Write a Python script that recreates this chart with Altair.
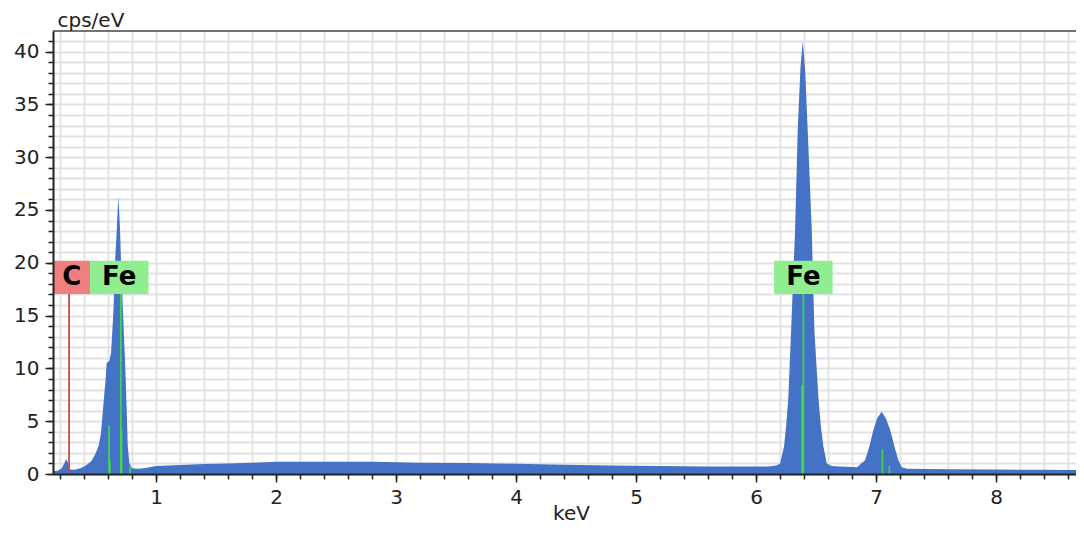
import altair as alt
import pandas as pd

# ---- spectrum (keV, cps/eV) ----
energy_kev = [0.141, 0.18, 0.21, 0.235, 0.25, 0.262, 0.275, 0.29, 0.33, 0.37,
              0.40, 0.42, 0.46, 0.49, 0.52, 0.54, 0.553, 0.568, 0.58, 0.588,
              0.61, 0.625, 0.635, 0.644, 0.658, 0.672, 0.686, 0.70, 0.708, 0.725,
              0.736, 0.742, 0.747, 0.756, 0.764, 0.778, 0.80, 0.85, 0.9, 1.0,
              1.2, 1.4, 1.6, 1.8, 2.0, 2.4, 2.8, 3.2, 3.6, 4.0,
              4.4, 4.8, 5.2, 5.6, 6.0, 6.10, 6.17, 6.20, 6.233, 6.25,
              6.269, 6.292, 6.325, 6.347, 6.37, 6.389, 6.41, 6.43, 6.464, 6.486,
              6.519, 6.54, 6.561, 6.589, 6.63, 6.70, 6.84, 6.908, 6.944, 6.978,
              7.01, 7.047, 7.08, 7.117, 7.153, 7.186, 7.214, 7.26, 7.6, 8.0,
              8.4, 8.733]
counts = [0.25, 0.3, 0.5, 1.0, 1.4, 1.2, 0.6, 0.4, 0.42, 0.55,
          0.7, 0.85, 1.2, 1.8, 2.6, 3.8, 5.5, 7.5, 9.0, 10.5,
          10.7, 11.5, 13.5, 15.2, 20.0, 23.1, 26.3, 23.1, 20.0, 15.2,
          12.1, 10.5, 8.9, 5.7, 2.6, 1.0, 0.55, 0.5, 0.55, 0.75,
          0.85, 0.95, 1.0, 1.07, 1.15, 1.17, 1.15, 1.07, 1.05, 0.97,
          0.88, 0.8, 0.75, 0.7, 0.7, 0.7, 0.8, 1.0, 2.6, 4.5,
          7.3, 13.6, 23.1, 32.6, 38.5, 41.0, 38.0, 32.6, 23.1, 13.6,
          7.3, 4.5, 2.6, 1.0, 0.75, 0.7, 0.65, 1.3, 2.6, 4.2,
          5.3, 5.9, 5.3, 4.2, 2.6, 1.3, 0.63, 0.5, 0.45, 0.42,
          0.4, 0.38]

# ---- element line markers ----
fe_line_energy = [0.608, 0.614, 0.706, 0.712, 0.783, 6.383, 6.394, 7.053, 7.111]
fe_line_height = [4.6, 1.3, 17.1, 4.3, 0.7, 8.4, 17.1, 2.34, 0.76]
c_line_energy = [0.275]
c_line_height = [17.1]

# ---- element labels ----
label_text = ["C", "Fe", "Fe"]
label_center = [0.2975, 0.693, 6.394]
label_bottom = 17.05
label_top = 20.2

# ---- axis ticks ----
x_major = [1, 2, 3, 4, 5, 6, 7, 8]
x_minor = [round(0.2 * i, 1) for i in range(1, 44)]
y_major = [0, 5, 10, 15, 20, 25, 30, 35, 40]
y_minor = list(range(0, 42))

X_DOMAIN = [0.141, 8.666]
Y_DOMAIN = [0, 41.95]
FONT = "DejaVu Sans"
INK = "#222222"

spec = pd.DataFrame({"keV": energy_kev, "cps": counts})
fe_lines = pd.DataFrame({"keV": fe_line_energy, "h": fe_line_height})
c_lines = pd.DataFrame({"keV": c_line_energy, "h": c_line_height})
labels = pd.DataFrame({"text": label_text, "keV": label_center,
                       "lo": [label_bottom] * 3, "hi": [label_top] * 3,
                       "mid": [(label_bottom + label_top) / 2] * 3})

xs = alt.Scale(domain=X_DOMAIN, nice=False, zero=False)
ys = alt.Scale(domain=Y_DOMAIN, nice=False, zero=False)

major_x_axis = alt.Axis(values=x_major, orient="bottom", format="d", grid=False,
                        tickSize=8, tickColor=INK, tickWidth=1.5,
                        domain=True, domainColor=INK, domainWidth=2,
                        labelFont=FONT, labelFontSize=20, labelColor=INK, labelPadding=5,
                        title="keV", titleFont=FONT, titleFontSize=20, titleFontWeight="normal",
                        titleColor=INK, titleX=518, titleY=45, titleAlign="center",
                        titleBaseline="alphabetic", zindex=1)
major_y_axis = alt.Axis(values=y_major, orient="left", format="d", grid=False,
                        tickSize=8, tickColor=INK, tickWidth=1.5,
                        domain=True, domainColor=INK, domainWidth=2,
                        labelFont=FONT, labelFontSize=20, labelColor=INK, labelPadding=6,
                        title="cps/eV", titleFont=FONT, titleFontSize=20, titleFontWeight="normal",
                        titleColor=INK, titleAngle=0, titleAlign="left", titleX=4, titleY=-4.3,
                        titleBaseline="alphabetic", zindex=1)
minor_x_axis = alt.Axis(values=x_minor, orient="bottom", labels=False, title=None, domain=False,
                        grid=True, gridColor="#e1e1e1", gridWidth=1.8,
                        tickSize=5, tickColor=INK, tickWidth=1.5, zindex=0)
minor_y_axis = alt.Axis(values=y_minor, orient="left", labels=False, title=None, domain=False,
                        grid=True, gridColor="#e1e1e1", gridWidth=1.8,
                        tickSize=5, tickColor=INK, tickWidth=1.5, zindex=0)

area = alt.Chart(spec).mark_area(color="#4472C4", interpolate="linear", clip=True).encode(
    x=alt.X("keV:Q", scale=xs, axis=major_x_axis),
    y=alt.Y("cps:Q", scale=ys, axis=major_y_axis),
)

green = alt.Chart(fe_lines).mark_rule(color="#3ee43e", strokeWidth=1.8, opacity=0.85).encode(
    x=alt.X("keV:Q", scale=xs, axis=minor_x_axis),
    y=alt.Y("h:Q", scale=ys, axis=minor_y_axis),
    y2=alt.datum(0),
)

red = alt.Chart(c_lines).mark_rule(color="#c84848", strokeWidth=1.8).encode(
    x=alt.X("keV:Q", scale=xs, axis=None),
    y=alt.Y("h:Q", scale=ys, axis=None),
    y2=alt.datum(0),
)

c_box = alt.Chart(labels).transform_filter(alt.datum.text == "C").mark_rule(
    color="#F08080", strokeWidth=36.7, strokeCap="butt").encode(
    x=alt.X("keV:Q", scale=xs, axis=None),
    y=alt.Y("lo:Q", scale=ys, axis=None),
    y2="hi:Q",
)

fe_box = alt.Chart(labels).transform_filter(alt.datum.text == "Fe").mark_rule(
    color="#90EE90", strokeWidth=58.5, strokeCap="butt").encode(
    x=alt.X("keV:Q", scale=xs, axis=None),
    y=alt.Y("lo:Q", scale=ys, axis=None),
    y2="hi:Q",
)

text = alt.Chart(labels).mark_text(font=FONT, fontSize=26, fontWeight="bold", color="black",
                                   align="center", baseline="middle").encode(
    x=alt.X("keV:Q", scale=xs, axis=None),
    y=alt.Y("mid:Q", scale=ys, axis=None),
    text="text:N",
)

frame = alt.Chart(pd.DataFrame({"a": [0]})).mark_rule(color="#444444", strokeWidth=1.5).encode(
    x=alt.value(0), x2=alt.value(1023), y=alt.value(0)
)

chart = alt.layer(area, green, red, c_box, fe_box, text, frame).resolve_axis(
    x="independent", y="independent"
).properties(
    width=1023, height=443,
    autosize=alt.AutoSizeParams(type="none"),
    padding={"left": 45, "top": 23, "right": 0, "bottom": 50},
    background="white",
).configure_view(stroke=None)

chart.save("out.html", embed_options={"renderer": "svg", "actions": False})
